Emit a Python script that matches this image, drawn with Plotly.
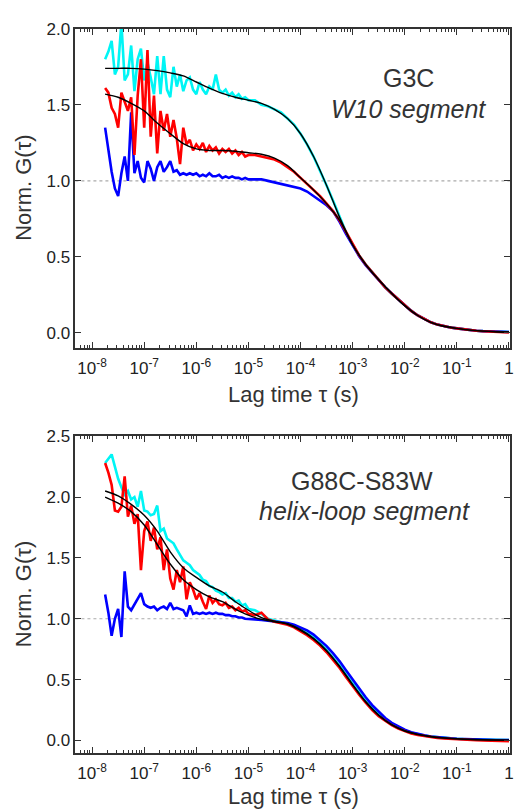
import plotly.graph_objects as go

# log10 of lag time (s) for the measured curves
LAG_EXP = [-7.75, -7.6875, -7.625, -7.5625, -7.5, -7.4375, -7.375, -7.3125, -7.25, -7.1875,
           -7.125, -7.0625, -7.0, -6.9375, -6.875, -6.8125, -6.75, -6.6875, -6.625, -6.5625,
           -6.5, -6.4375, -6.375, -6.3125, -6.25, -6.1875, -6.125, -6.0625, -6.0, -5.9375,
           -5.875, -5.8125, -5.75, -5.6875, -5.625, -5.5625, -5.5, -5.4375, -5.375, -5.3125,
           -5.25, -5.1875, -5.125, -5.0625, -5.0,
           -4.875, -4.75, -4.625, -4.5, -4.375, -4.25, -4.125, -4.0, -3.875, -3.75,
           -3.625, -3.5, -3.375, -3.25, -3.125, -3.0, -2.875, -2.75, -2.625, -2.5,
           -2.375, -2.25, -2.125, -2.0, -1.875, -1.75, -1.625, -1.5, -1.375, -1.25,
           -1.125, -1.0, -0.875, -0.75, -0.625, -0.5, -0.375, -0.25, -0.125, 0.0]

# log10 of lag time (s) for the fitted curves
FIT_EXP = [-7.75, -7.5, -7.25, -7.0, -6.75, -6.5, -6.25, -6.0, -5.75, -5.5, -5.25, -5.0,
           -4.75, -4.5, -4.25, -4.0, -3.75, -3.5, -3.25, -3.0, -2.75, -2.5, -2.25, -2.0,
           -1.75, -1.5, -1.25, -1.0, -0.75, -0.5, -0.25, 0.0]

# ---- G3C, W10 segment (top panel)
g3c_cyan = [1.80, 1.85, 1.92, 1.70, 1.75, 2.04, 1.66, 1.70, 1.89, 1.59,
            1.80, 1.87, 1.66, 1.78, 1.68, 1.57, 1.82, 1.57, 1.82, 1.60,
            1.55, 1.75, 1.62, 1.70, 1.59, 1.66, 1.68, 1.60, 1.57, 1.65,
            1.60, 1.57, 1.62, 1.60, 1.70, 1.60, 1.58, 1.60, 1.56, 1.58,
            1.55, 1.57, 1.54, 1.55, 1.53,
            1.53, 1.50, 1.49, 1.47, 1.45, 1.41, 1.37, 1.31, 1.24, 1.16,
            1.07, 0.97, 0.87, 0.76, 0.66, 0.58, 0.51, 0.45, 0.40, 0.35,
            0.30, 0.26, 0.22, 0.18, 0.145, 0.115, 0.09, 0.07, 0.055, 0.044,
            0.036, 0.03, 0.024, 0.019, 0.015, 0.012, 0.010, 0.008, 0.007, 0.006]
g3c_red = [1.61, 1.58, 1.48, 1.44, 1.35, 1.58, 1.52, 1.46, 1.55, 1.17,
           1.56, 1.80, 1.35, 1.86, 1.29, 1.56, 1.18, 1.46, 1.33, 1.44,
           1.29, 1.40, 1.28, 1.11, 1.35, 1.24, 1.27, 1.20, 1.24, 1.21,
           1.25, 1.19, 1.23, 1.20, 1.22, 1.18, 1.21, 1.19, 1.21, 1.18,
           1.20, 1.17, 1.19, 1.16, 1.17,
           1.17, 1.16, 1.15, 1.14, 1.12, 1.09, 1.06, 1.02, 0.98, 0.94,
           0.90, 0.85, 0.80, 0.74, 0.66, 0.58, 0.51, 0.45, 0.40, 0.35,
           0.30, 0.26, 0.22, 0.18, 0.145, 0.115, 0.09, 0.07, 0.055, 0.044,
           0.036, 0.03, 0.024, 0.019, 0.015, 0.011, 0.008, 0.006, 0.004, 0.003]
g3c_blue = [1.35, 1.20, 1.06, 0.95, 0.90, 1.05, 1.16, 1.00, 1.45, 1.05,
            1.13, 1.02, 0.99, 1.13, 1.08, 1.00, 1.09, 1.13, 1.06, 1.09,
            1.13, 1.06, 1.07, 1.04, 1.05, 1.04, 1.05, 1.04, 1.05, 1.03,
            1.04, 1.03, 1.05, 1.03, 1.03, 1.04, 1.02, 1.03, 1.02, 1.03,
            1.02, 1.02, 1.01, 1.02, 1.01,
            1.01, 1.01, 1.00, 0.99, 0.98, 0.97, 0.96, 0.95, 0.93, 0.90,
            0.87, 0.84, 0.80, 0.73, 0.65, 0.575, 0.505, 0.445, 0.395, 0.35,
            0.30, 0.26, 0.22, 0.18, 0.145, 0.115, 0.09, 0.07, 0.055, 0.044,
            0.036, 0.03, 0.024, 0.019, 0.015, 0.012, 0.010, 0.008, 0.007, 0.006]
g3c_fit_cyan = [1.74, 1.74, 1.74, 1.735, 1.725, 1.71, 1.69, 1.65, 1.61, 1.575, 1.55, 1.53,
                1.51, 1.47, 1.41, 1.31, 1.16, 0.97, 0.76, 0.58, 0.45, 0.35, 0.26, 0.18,
                0.115, 0.07, 0.044, 0.03, 0.019, 0.012, 0.008, 0.006]
g3c_fit_red = [1.57, 1.55, 1.51, 1.46, 1.38, 1.31, 1.245, 1.21, 1.20, 1.20, 1.195, 1.185,
               1.175, 1.15, 1.10, 1.02, 0.94, 0.85, 0.74, 0.58, 0.45, 0.35, 0.26, 0.18,
               0.115, 0.07, 0.044, 0.03, 0.019, 0.012, 0.008, 0.006]

# ---- G88C-S83W, helix-loop segment (bottom panel)
g88_cyan = [2.28, 2.32, 2.35, 2.25, 2.15, 2.08, 2.02, 2.05, 1.98, 2.00,
            1.92, 2.05, 1.89, 1.88, 1.85, 1.86, 1.93, 1.72, 1.74, 1.66,
            1.64, 1.62, 1.57, 1.53, 1.48, 1.46, 1.44, 1.40, 1.38, 1.36,
            1.32, 1.31, 1.27, 1.26, 1.23, 1.22, 1.20, 1.21, 1.17, 1.17,
            1.14, 1.15, 1.11, 1.12, 1.08,
            1.07, 1.04, 1.00, 0.985, 0.975, 0.96, 0.94, 0.915, 0.88, 0.845,
            0.80, 0.745, 0.68, 0.615, 0.54, 0.465, 0.39, 0.325, 0.265, 0.215,
            0.17, 0.135, 0.105, 0.082, 0.064, 0.05, 0.04, 0.032, 0.026, 0.021,
            0.017, 0.014, 0.011, 0.009, 0.007, 0.006, 0.005, 0.004, 0.003, 0.003]
g88_red = [2.28, 2.20, 2.10, 1.89, 1.88, 1.92, 2.17, 1.84, 1.93, 1.78,
           1.86, 1.40, 1.72, 1.80, 1.64, 1.75, 1.57, 1.67, 1.40, 1.57,
           1.33, 1.24, 1.40, 1.30, 1.43, 1.16, 1.30, 1.24, 1.16, 1.21,
           1.14, 1.08, 1.19, 1.13, 1.16, 1.12, 1.11, 1.13, 1.09, 1.10,
           1.07, 1.09, 1.06, 1.07, 1.04,
           1.03, 1.05, 0.995, 0.975, 0.965, 0.95, 0.93, 0.90, 0.865, 0.825,
           0.78, 0.725, 0.66, 0.595, 0.52, 0.445, 0.375, 0.31, 0.25, 0.20,
           0.16, 0.125, 0.097, 0.075, 0.058, 0.045, 0.035, 0.027, 0.021, 0.016,
           0.012, 0.009, 0.006, 0.004, 0.002, 0.0, -0.002, -0.004, -0.005, -0.006]
g88_blue = [1.20, 1.05, 0.86, 1.00, 1.08, 0.85, 1.39, 1.10, 1.07, 1.12,
            1.17, 1.21, 1.12, 1.10, 1.09, 1.10, 1.07, 1.09, 1.10, 1.08,
            1.13, 1.08, 1.09, 1.08, 1.07, 1.02, 1.11, 1.04, 1.05, 1.04,
            1.05, 1.04, 1.05, 1.04, 1.05, 1.04, 1.04, 1.03, 1.03, 1.02,
            1.02, 1.01, 1.01, 1.00, 1.00,
            0.995, 0.99, 0.985, 0.98, 0.975, 0.965, 0.95, 0.93, 0.905, 0.87,
            0.825, 0.775, 0.715, 0.65, 0.575, 0.50, 0.425, 0.355, 0.29, 0.235,
            0.185, 0.145, 0.113, 0.088, 0.068, 0.053, 0.042, 0.033, 0.026, 0.021,
            0.017, 0.014, 0.011, 0.009, 0.007, 0.006, 0.005, 0.004, 0.003, 0.003]
g88_fit_upper = [2.05, 2.01, 1.94, 1.85, 1.72, 1.55, 1.42, 1.34, 1.27, 1.22, 1.14, 1.07,
                 1.01, 0.98, 0.96, 0.91, 0.84, 0.74, 0.61, 0.46, 0.32, 0.21, 0.13, 0.08,
                 0.05, 0.032, 0.021, 0.014, 0.009, 0.006, 0.004, 0.003]
g88_fit_lower = [2.00, 1.95, 1.88, 1.77, 1.61, 1.45, 1.32, 1.24, 1.18, 1.14, 1.08, 1.03,
                 0.995, 0.975, 0.955, 0.905, 0.835, 0.735, 0.605, 0.455, 0.315, 0.205, 0.128, 0.078,
                 0.049, 0.031, 0.02, 0.013, 0.008, 0.005, 0.003, 0.002]

DECADES = [-8, -7, -6, -5, -4, -3, -2, -1, 0]
DECADE_LABELS = ["10<sup>-8</sup>", "10<sup>-7</sup>", "10<sup>-6</sup>", "10<sup>-5</sup>",
                 "10<sup>-4</sup>", "10<sup>-3</sup>", "10<sup>-2</sup>", "10<sup>-1</sup>", "1"]

CYAN = "#00f5f5"
RED = "#ff0000"
BLUE = "#0000ff"
AXIS = "#333333"
FONT = "Liberation Sans, Arial, sans-serif"

tau = [10 ** e for e in LAG_EXP]
tau_fit = [10 ** e for e in FIT_EXP]

fig = go.Figure()


def add_panel(xa, ya, data, fits):
    for y, color in data:
        fig.add_trace(go.Scatter(
            x=tau, y=y, mode="lines", xaxis=xa, yaxis=ya,
            line=dict(color=color, width=2.6), showlegend=False, hoverinfo="skip",
        ))
    for y in fits:
        fig.add_trace(go.Scatter(
            x=tau_fit, y=y, mode="lines", xaxis=xa, yaxis=ya,
            line=dict(color="black", width=1.4, shape="spline", smoothing=0.8),
            showlegend=False, hoverinfo="skip",
        ))


add_panel("x", "y", [(g3c_cyan, CYAN), (g3c_blue, BLUE), (g3c_red, RED)],
          [g3c_fit_cyan, g3c_fit_red])
add_panel("x2", "y2", [(g88_cyan, CYAN), (g88_blue, BLUE), (g88_red, RED)],
          [g88_fit_upper, g88_fit_lower])

W, H = 518, 809
# minor ticks at 2..9 x each decade, plus the partial decade left of 1e-8
minor_vals = [m * 10 ** d for d in DECADES[:-1] for m in range(2, 10)]
minor_vals += [m * 1e-9 for m in range(5, 10)]

xstyle = dict(
    type="log", range=[-8.32, 0.02],
    tickmode="array", tickvals=[10 ** d for d in DECADES], ticktext=DECADE_LABELS,
    ticks="inside", ticklen=6, tickwidth=1.2, tickcolor=AXIS, ticklabelstandoff=4,
    minor=dict(tickmode="array", tickvals=minor_vals, ticks="inside", ticklen=3,
               tickwidth=1, tickcolor=AXIS, showgrid=False),
    showline=True, linecolor=AXIS, linewidth=1.5, mirror="ticks",
    showgrid=False, zeroline=False,
    tickfont=dict(family=FONT, size=17, color="#222"),
)
ystyle = dict(
    ticks="inside", ticklen=6, tickwidth=1.2, tickcolor=AXIS, tickformat=".1f",
    showline=True, linecolor=AXIS, linewidth=1.5, mirror="ticks",
    showgrid=False, zeroline=False,
    tickfont=dict(family=FONT, size=17, color="#222"),
)

fig.update_layout(
    width=W, height=H, autosize=False,
    margin=dict(l=0, r=0, t=0, b=0),
    paper_bgcolor="white", plot_bgcolor="white",
    font=dict(family=FONT, color="#222"),
    xaxis=dict(xstyle, domain=[76 / W, 514 / W], anchor="y"),
    yaxis=dict(ystyle, domain=[1 - 343 / H, 1 - 20 / H], anchor="x",
               range=[-0.1, 2.0], tickvals=[0, 0.5, 1.0, 1.5, 2.0]),
    xaxis2=dict(xstyle, domain=[76 / W, 514 / W], anchor="y2"),
    yaxis2=dict(ystyle, domain=[1 - 752 / H, 1 - 432 / H], anchor="x2",
                range=[-0.1, 2.5], tickvals=[0, 0.5, 1.0, 1.5, 2.0, 2.5]),
)

# dotted reference line at G = 1
for xr, yr in [("x domain", "y"), ("x2 domain", "y2")]:
    fig.add_shape(type="line", xref=xr, yref=yr, x0=0, x1=1, y0=1, y1=1,
                  line=dict(color="#aaaaaa", width=1.2, dash="dot"), layer="below")


def label(text, px, py, size, angle=0):
    fig.add_annotation(text=text, x=px / W, y=1 - py / H, xref="paper", yref="paper",
                       showarrow=False, textangle=angle,
                       font=dict(family=FONT, size=size, color="#333"),
                       xanchor="center", yanchor="middle")


label("Lag time τ (s)", 296, 390, 22)
label("Lag time τ (s)", 296, 796, 22)
label("Norm. G(τ)", 24, 181, 22, -90)
label("Norm. G(τ)", 24, 592, 22, -90)
label("G3C", 412, 70, 25)
label("<i>W10 segment</i>", 412, 101, 25)
label("G88C-S83W", 365, 477, 25)
label("<i>helix-loop segment</i>", 367, 508, 25)

fig.write_html("out.html", config={"displayModeBar": False},
               post_script="document.body.style.margin='0';document.body.style.overflow='hidden';")
